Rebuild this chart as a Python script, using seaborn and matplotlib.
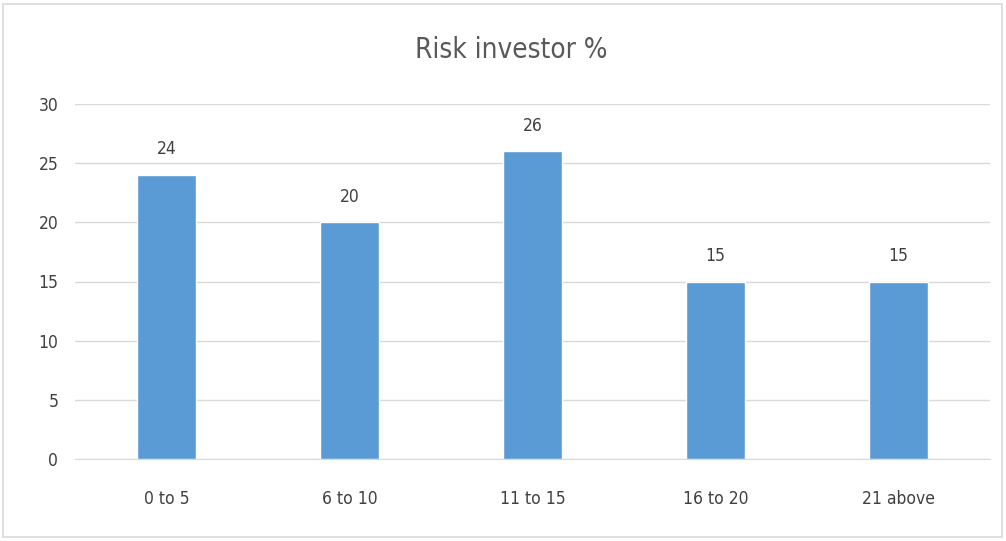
import matplotlib
matplotlib.use("Agg")
import matplotlib.pyplot as plt
import seaborn as sns
import pandas as pd
from matplotlib.patches import Rectangle

categories = ["0 to 5", "6 to 10", "11 to 15", "16 to 20", "21 above"]
values = [24, 20, 26, 15, 15]
yticks = [0, 5, 10, 15, 20, 25, 30]
title = "Risk investor %"

sns.set_style("white")
plt.rcParams['font.family'] = ['DejaVu Sans']
plt.rcParams['font.stretch'] = 'condensed'

df = pd.DataFrame({"cat": categories, "val": values})

fig = plt.figure(figsize=(10.06, 5.41), dpi=100)
ax = fig.add_axes([75/1006, 1-459/541, 915/1006, 355/541])

sns.barplot(data=df, x="cat", y="val", color="#5B9BD5", width=0.32,
            saturation=1, ax=ax, zorder=3)

ax.set_ylim(0, 30)
ax.set_yticks(yticks)
ax.set_xlim(-0.5, len(categories) - 0.5)
ax.yaxis.grid(True, color="#d9d9d9", linewidth=1, zorder=0)
ax.set_axisbelow(True)
for s in ["top", "right", "left"]:
    ax.spines[s].set_visible(False)
ax.spines["bottom"].set_color("#d9d9d9")
ax.tick_params(axis="both", length=0, labelsize=12.5, labelcolor="#404040")
ax.tick_params(axis="y", pad=12)
ax.tick_params(axis="x", pad=22)
ax.set_xlabel("")
ax.set_ylabel("")

for p, v in zip(ax.patches, values):
    ax.annotate(str(v), (p.get_x() + p.get_width() / 2, p.get_height()),
                xytext=(0, 12), textcoords="offset points", ha="center",
                va="bottom", fontsize=12.5, color="#404040")

fig.text(511/1006, 1-50/541, title, ha="center", va="center",
         fontsize=20, color="#595959")

fig.patches.append(Rectangle((3/1006, 4/541), 999/1006, 533/541,
                             transform=fig.transFigure, fill=False,
                             edgecolor="#d9d9d9", linewidth=1.2))

fig.savefig("out.png", dpi=100)
